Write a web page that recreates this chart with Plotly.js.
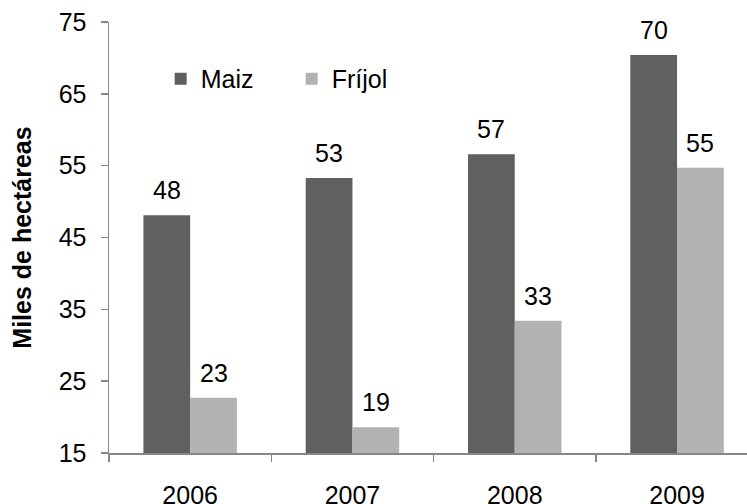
<!DOCTYPE html>
<html>
<head>
<meta charset="utf-8">
<script src="https://cdn.plot.ly/plotly-3.0.1.min.js"></script>
<style>html,body{margin:0;padding:0;background:#fff}#chart{width:747px;height:504px}</style>
</head>
<body>
<div id="chart"></div>
<script>
const years = ['2006', '2007', '2008', '2009'];
const maiz = [48.1, 53.3, 56.6, 70.4];
const frijol = [22.7, 18.6, 33.4, 54.7];
const seriesNames = ['Maiz', 'Fríjol'];
const yTicks = [15, 25, 35, 45, 55, 65, 75];

const FONT = 'Liberation Sans, Arial, sans-serif';
const FS = 25;
const AXIS_COLOR = '#868686';
const colors = ['#606060', '#b2b2b2'];
const allSeries = [maiz, frijol];

const traces = allSeries.map((vals, i) => ({
  type: 'bar',
  name: seriesNames[i],
  x: years,
  y: vals,
  marker: {color: colors[i], line: {width: 0}},
  hoverinfo: 'none'
}));

const barOffset = 23.4;
const annotations = [];
allSeries.forEach((vals, i) => {
  vals.forEach((v, j) => {
    annotations.push({
      x: j, y: v, xref: 'x', yref: 'y',
      text: String(Math.round(v)),
      showarrow: false,
      xshift: (i === 0 ? -1 : 1) * barOffset,
      yanchor: 'bottom', yshift: 9,
      font: {family: FONT, size: FS, color: '#000'}
    });
  });
});

const layout = {
  width: 747, height: 504,
  margin: {l: 109, r: 0, t: 22, b: 51, pad: 0},
  paper_bgcolor: '#fff', plot_bgcolor: '#fff',
  font: {family: FONT, size: FS, color: '#000'},
  barmode: 'group',
  bargap: 0.424,
  bargroupgap: 0,
  showlegend: true,
  legend: {
    orientation: 'h', x: 0.081, y: 0.868, xanchor: 'left', yanchor: 'middle',
    entrywidth: 86, entrywidthmode: 'pixels',
    itemwidth: 30, bgcolor: 'rgba(0,0,0,0)', borderwidth: 0,
    font: {family: FONT, size: FS, color: '#000'}
  },
  xaxis: {
    type: 'category',
    range: [-0.5, 3.431],
    showline: true, linecolor: AXIS_COLOR, linewidth: 1.5,
    ticks: 'outside', tickson: 'boundaries', ticklen: 7, tickcolor: AXIS_COLOR, tickwidth: 1.5,
    ticklabelstandoff: 19,
    showgrid: false, zeroline: false,
    tickfont: {family: FONT, size: FS, color: '#000'}
  },
  yaxis: {
    range: [15, 75],
    tickvals: yTicks,
    ticktext: yTicks.map(String),
    showline: true, linecolor: AXIS_COLOR, linewidth: 1.5,
    ticks: 'outside', ticklen: 7, tickcolor: AXIS_COLOR, tickwidth: 1.5,
    ticklabelstandoff: 9,
    showgrid: false, zeroline: false,
    tickfont: {family: FONT, size: FS, color: '#000'},
    title: {text: '<b>Miles de hectáreas</b>', font: {family: FONT, size: FS, color: '#000'}, standoff: 20}
  },
  annotations: annotations
};

Plotly.newPlot('chart', traces, layout, {displayModeBar: false, staticPlot: true});
</script>
</body>
</html>
